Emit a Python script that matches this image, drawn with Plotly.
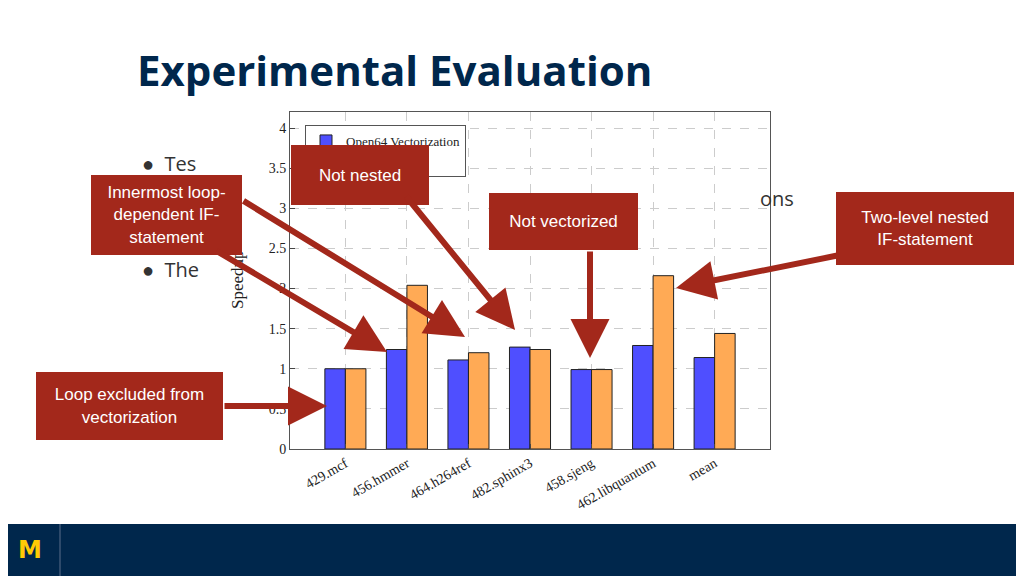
import plotly.graph_objects as go

categories = ["429.mcf", "456.hmmer", "464.h264ref", "482.sphinx3", "458.sjeng", "462.libquantum", "mean"]
open64 = [1.0, 1.24, 1.11, 1.27, 0.99, 1.29, 1.14]
ours = [1.0, 2.04, 1.2, 1.24, 0.99, 2.16, 1.44]
yticks = [0, 0.5, 1, 1.5, 2, 2.5, 3, 3.5, 4]

W, H, OFF = 1024, 576, 8
def px(x): return (x - OFF) / W
def py(y): return 1 - (y - OFF) / H

serif = "Liberation Serif"
fig = go.Figure()
fig.add_bar(x=categories, y=open64, name="Open64 Vectorization", marker=dict(color="#4F4FFF", line=dict(color="#222", width=1)))
fig.add_bar(x=categories, y=ours, name="Our Approach", marker=dict(color="#FFAA55", line=dict(color="#222", width=1)))
fig.update_layout(
    width=W, height=H, paper_bgcolor="white", plot_bgcolor="white",
    margin=dict(l=0, r=0, t=0, b=0, autoexpand=False), barmode="group", bargap=0.333, bargroupgap=0,
    showlegend=True,
    legend=dict(x=px(305), y=py(125), xanchor="left", yanchor="top", bgcolor="white",
                bordercolor="#555", borderwidth=1, font=dict(family=serif, size=13, color="#222"),
                tracegroupgap=0, itemwidth=30),
    font=dict(family=serif, color="#222"),
)
fig.update_yaxes(domain=[py(449), py(112)], range=[0, 4.2], tickvals=yticks,
                 ticktext=["0", "0.5", "1", "1.5", "2", "2.5", "3", "3.5", "4"],
                 showgrid=True, gridcolor="#ccc", griddash="dash", showline=True, linecolor="#555", mirror=True,
                 ticks="inside", tickfont=dict(size=14, family=serif), zeroline=False, automargin=False)
fig.update_xaxes(domain=[px(290), px(770)], range=[-0.9, 6.9], showline=True, linecolor="#555", mirror=True,
                 tickangle=-30, ticks="inside", tickfont=dict(size=14, family=serif), showgrid=True,
                 gridcolor="#ccc", griddash="dash", automargin=False)

RED = "#A3281B"
shapes = [
    dict(type="rect", xref="paper", yref="paper", x0=-0.05, x1=1.05, y0=py(576) - 0.05, y1=py(524), fillcolor="#00274C", line_width=0, layer="above"),
    dict(type="line", xref="paper", yref="paper", x0=px(60), x1=px(60), y0=py(576), y1=py(524), line=dict(color="#5a6f8a", width=1), layer="above"),
]
anns = [
    dict(x=px(135), y=py(70), text="<b>Experimental Evaluation</b>", xanchor="left",
         font=dict(family="Open Sans", size=42, color="#00274C")),
    dict(x=px(140), y=py(163), text="●  Tes", xanchor="left", font=dict(family="Open Sans", size=20, color="#333")),
    dict(x=px(140), y=py(269), text="●  The", xanchor="left", font=dict(family="Open Sans", size=20, color="#333")),
    dict(x=px(758), y=py(198), text="ons", xanchor="left", font=dict(family="Open Sans", size=20, color="#333")),
    dict(x=px(237), y=py(280), text="Speedup", textangle=-90, font=dict(family=serif, size=17, color="#222")),
    dict(x=px(30), y=py(550), text="<b>M</b>", font=dict(family="DejaVu Sans", size=24, color="#FFCB05")),
]
for a in anns:
    a.update(xref="paper", yref="paper", showarrow=False, yanchor="middle")
    a.setdefault("xanchor", "center")

boxes = [
    (291, 429, 145, 205, "Not nested"),
    (91, 242, 175, 255, "Innermost loop-<br>dependent IF-<br>statement"),
    (489, 638, 193, 250, "Not vectorized"),
    (836, 1014, 192, 265, "Two-level nested<br>IF-statement"),
    (36, 223, 372, 440, "Loop excluded from<br>vectorization"),
]
for x0, x1, y0, y1, t in boxes:
    anns.append(dict(xref="paper", yref="paper", x=px((x0 + x1) / 2), y=py((y0 + y1) / 2), text=t, showarrow=False,
                     xanchor="center", yanchor="middle", width=x1 - x0, height=y1 - y0, bgcolor=RED,
                     borderpad=0, borderwidth=0, font=dict(family="Liberation Sans", size=17, color="white")))
arrows = [((405, 195), (515, 330)), ((242, 200), (465, 337)), ((215, 250), (387, 352)),
          ((590, 250), (590, 358)), ((840, 255), (676, 288)), ((223, 406), (327, 406))]
for (sx, sy), (ex, ey) in arrows:
    anns.append(dict(xref="paper", yref="paper", axref="pixel", ayref="pixel", x=px(ex), y=py(ey), ax=sx - ex, ay=sy - ey,
                     text="", showarrow=True, arrowhead=2, arrowsize=1.3, arrowwidth=6, arrowcolor=RED))
fig.update_layout(shapes=shapes, annotations=anns)
fig.write_html("out.html")
